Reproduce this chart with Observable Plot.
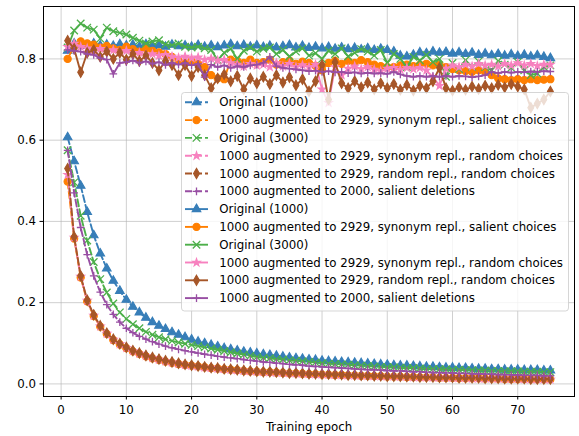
<!DOCTYPE html>
<html><head><meta charset="utf-8">
<script src="https://cdn.jsdelivr.net/npm/d3@7"></script>
<script src="https://cdn.jsdelivr.net/npm/@observablehq/plot@0.6"></script>
<style>body{margin:0;background:#fff} #chart{width:579px;height:436px}</style>
</head><body><div id="chart"></div>
<script>
const epochs = d3.range(1, 76);
const xTicks = [0, 10, 20, 30, 40, 50, 60, 70];
const yTicks = [0.0, 0.2, 0.4, 0.6, 0.8];
const xLabel = "Training epoch";

const labels = [
  "Original (1000)",
  "1000 augmented to 2929, synonym repl., salient choices",
  "Original (3000)",
  "1000 augmented to 2929, synonym repl., random choices",
  "1000 augmented to 2929, random repl., random choices",
  "1000 augmented to 2000, salient deletions"
];

// dashed curves (decreasing)
const lossOrig1000 = [0.607,0.548,0.488,0.423,0.366,0.321,0.284,0.254,0.229,0.207,0.190,0.176,0.163,0.152,0.143,0.135,0.127,0.121,0.115,0.109,0.104,0.100,0.096,0.092,0.088,0.085,0.082,0.079,0.077,0.075,0.073,0.071,0.069,0.067,0.065,0.063,0.062,0.060,0.059,0.057,0.056,0.055,0.054,0.053,0.052,0.051,0.050,0.049,0.048,0.047,0.046,0.045,0.045,0.044,0.043,0.042,0.042,0.041,0.040,0.040,0.039,0.039,0.038,0.037,0.037,0.036,0.036,0.035,0.035,0.035,0.034,0.034,0.034,0.033,0.033];
const lossSynSal = [0.498,0.358,0.262,0.203,0.167,0.141,0.123,0.108,0.097,0.088,0.080,0.074,0.068,0.063,0.059,0.055,0.052,0.049,0.047,0.045,0.043,0.041,0.039,0.038,0.036,0.035,0.034,0.032,0.031,0.030,0.029,0.029,0.028,0.027,0.026,0.026,0.025,0.024,0.024,0.023,0.023,0.022,0.022,0.021,0.021,0.020,0.020,0.019,0.019,0.018,0.018,0.018,0.017,0.017,0.016,0.016,0.016,0.015,0.015,0.015,0.014,0.014,0.014,0.014,0.013,0.013,0.013,0.012,0.012,0.012,0.012,0.011,0.011,0.011,0.011];
const lossOrig3000 = [0.575,0.496,0.414,0.353,0.300,0.258,0.225,0.198,0.176,0.160,0.147,0.137,0.128,0.121,0.115,0.110,0.106,0.102,0.099,0.096,0.093,0.090,0.087,0.084,0.081,0.078,0.075,0.072,0.069,0.066,0.064,0.063,0.061,0.060,0.058,0.057,0.056,0.054,0.053,0.051,0.050,0.049,0.048,0.047,0.046,0.045,0.044,0.043,0.042,0.041,0.041,0.040,0.039,0.039,0.038,0.037,0.037,0.036,0.036,0.035,0.035,0.034,0.034,0.033,0.033,0.032,0.032,0.031,0.031,0.031,0.030,0.030,0.030,0.029,0.029];
const lossSynRand = [0.515,0.360,0.264,0.205,0.168,0.142,0.124,0.109,0.098,0.089,0.081,0.075,0.069,0.064,0.060,0.056,0.053,0.050,0.047,0.045,0.043,0.041,0.040,0.038,0.037,0.035,0.034,0.033,0.032,0.031,0.030,0.029,0.028,0.028,0.027,0.026,0.026,0.025,0.024,0.024,0.023,0.023,0.022,0.022,0.021,0.021,0.020,0.020,0.019,0.019,0.019,0.018,0.018,0.017,0.017,0.017,0.016,0.016,0.016,0.015,0.015,0.015,0.014,0.014,0.014,0.014,0.013,0.013,0.013,0.013,0.012,0.012,0.012,0.012,0.011];
const lossRandRand = [0.530,0.362,0.266,0.206,0.170,0.143,0.125,0.110,0.099,0.090,0.082,0.076,0.070,0.065,0.061,0.057,0.054,0.051,0.048,0.046,0.044,0.042,0.040,0.039,0.037,0.036,0.035,0.033,0.032,0.031,0.030,0.030,0.029,0.028,0.027,0.027,0.026,0.025,0.025,0.024,0.024,0.023,0.023,0.022,0.022,0.021,0.021,0.020,0.020,0.019,0.019,0.019,0.018,0.018,0.017,0.017,0.017,0.016,0.016,0.016,0.015,0.015,0.015,0.015,0.014,0.014,0.014,0.013,0.013,0.013,0.013,0.012,0.012,0.012,0.012];
const lossSalDel = [0.575,0.470,0.385,0.318,0.266,0.226,0.195,0.171,0.152,0.137,0.126,0.117,0.110,0.104,0.098,0.093,0.089,0.085,0.082,0.079,0.076,0.073,0.071,0.068,0.066,0.064,0.062,0.060,0.058,0.056,0.054,0.053,0.051,0.050,0.048,0.047,0.046,0.044,0.043,0.042,0.041,0.040,0.039,0.038,0.037,0.036,0.035,0.035,0.034,0.033,0.032,0.032,0.031,0.030,0.030,0.029,0.028,0.028,0.027,0.027,0.026,0.026,0.025,0.025,0.024,0.024,0.023,0.023,0.022,0.022,0.021,0.021,0.021,0.020,0.020];

// solid curves (around 0.8)
const accOrig1000 = [0.820,0.838,0.835,0.832,0.838,0.833,0.835,0.832,0.836,0.833,0.835,0.830,0.836,0.832,0.834,0.830,0.835,0.831,0.833,0.830,0.834,0.830,0.833,0.829,0.833,0.836,0.831,0.834,0.830,0.833,0.829,0.832,0.828,0.831,0.834,0.828,0.832,0.827,0.830,0.826,0.829,0.825,0.828,0.824,0.827,0.823,0.826,0.822,0.825,0.822,0.818,0.808,0.806,0.810,0.816,0.814,0.818,0.815,0.817,0.813,0.816,0.812,0.815,0.810,0.813,0.809,0.812,0.808,0.811,0.807,0.810,0.806,0.809,0.805,0.802];
const accSynSal = [0.800,0.832,0.843,0.838,0.835,0.828,0.832,0.826,0.822,0.830,0.824,0.818,0.826,0.820,0.816,0.812,0.805,0.795,0.790,0.795,0.788,0.780,0.760,0.752,0.750,0.798,0.795,0.790,0.798,0.790,0.792,0.798,0.786,0.792,0.796,0.788,0.793,0.790,0.783,0.772,0.790,0.795,0.788,0.795,0.790,0.797,0.792,0.786,0.782,0.780,0.780,0.784,0.786,0.782,0.786,0.788,0.784,0.786,0.780,0.775,0.772,0.770,0.768,0.772,0.768,0.760,0.752,0.750,0.748,0.750,0.748,0.750,0.748,0.749,0.750];
const accOrig3000 = [0.828,0.870,0.887,0.877,0.872,0.850,0.877,0.868,0.864,0.860,0.852,0.845,0.838,0.843,0.846,0.836,0.834,0.838,0.830,0.828,0.830,0.826,0.822,0.797,0.815,0.825,0.800,0.820,0.828,0.818,0.825,0.828,0.812,0.822,0.806,0.818,0.826,0.808,0.814,0.800,0.820,0.812,0.826,0.806,0.815,0.824,0.818,0.808,0.822,0.790,0.812,0.800,0.780,0.805,0.796,0.810,0.792,0.800,0.756,0.790,0.775,0.797,0.780,0.794,0.780,0.772,0.795,0.786,0.778,0.792,0.772,0.760,0.764,0.780,0.784];
const accSynRand = [0.830,0.838,0.830,0.826,0.822,0.825,0.820,0.822,0.816,0.820,0.814,0.815,0.810,0.812,0.808,0.810,0.806,0.803,0.806,0.802,0.804,0.798,0.801,0.796,0.798,0.790,0.786,0.782,0.788,0.784,0.786,0.780,0.790,0.782,0.788,0.780,0.785,0.780,0.786,0.725,0.692,0.780,0.760,0.776,0.782,0.775,0.780,0.774,0.770,0.776,0.778,0.774,0.778,0.775,0.778,0.772,0.755,0.734,0.776,0.784,0.780,0.786,0.782,0.788,0.784,0.786,0.782,0.788,0.784,0.790,0.784,0.788,0.783,0.786,0.786];
const accRandRand = [0.845,0.825,0.767,0.815,0.822,0.805,0.818,0.800,0.815,0.798,0.812,0.795,0.808,0.790,0.772,0.795,0.785,0.760,0.785,0.758,0.780,0.760,0.728,0.752,0.762,0.745,0.758,0.725,0.752,0.740,0.756,0.738,0.760,0.742,0.755,0.735,0.750,0.720,0.745,0.785,0.700,0.792,0.740,0.728,0.745,0.730,0.742,0.725,0.740,0.728,0.738,0.724,0.736,0.722,0.734,0.728,0.745,0.778,0.728,0.722,0.730,0.724,0.732,0.726,0.734,0.728,0.736,0.730,0.738,0.732,0.725,0.680,0.690,0.700,0.720];
const accSalDel = [0.822,0.820,0.818,0.812,0.810,0.802,0.798,0.763,0.790,0.792,0.796,0.790,0.794,0.788,0.792,0.785,0.790,0.786,0.790,0.784,0.788,0.755,0.786,0.780,0.784,0.778,0.782,0.780,0.784,0.786,0.790,0.805,0.782,0.778,0.776,0.774,0.772,0.770,0.771,0.768,0.770,0.767,0.768,0.765,0.767,0.764,0.766,0.764,0.765,0.763,0.768,0.762,0.758,0.756,0.758,0.756,0.758,0.756,0.758,0.756,0.758,0.757,0.755,0.757,0.760,0.768,0.765,0.768,0.766,0.768,0.767,0.769,0.768,0.770,0.769];

const colors = ["#377eb8", "#ff7f00", "#4daf4a", "#f781bf", "#a65628", "#984ea3"];
const symbols = ["triangle", "circle", "times", "star", "diamond", "plus"];
const dashedSeries = [lossOrig1000, lossSynSal, lossOrig3000, lossSynRand, lossRandRand, lossSalDel];
const solidSeries = [accOrig1000, accSynSal, accOrig3000, accSynRand, accRandRand, accSalDel];

// marker styling
const symR = {triangle: 3.2, circle: 3.6, times: 3.5, star: 2.4, diamond: 3.1, plus: 2.6};
const strokeOnly = {times: true, plus: true};

const seriesList = [];
dashedSeries.forEach((vals, i) => seriesList.push({vals, i, dashed: true}));
solidSeries.forEach((vals, i) => seriesList.push({vals, i, dashed: false}));

const marks = [
  Plot.gridX(xTicks, {stroke: "#b0b0b0", strokeOpacity: 0.6, strokeWidth: 1}),
  Plot.gridY(yTicks, {stroke: "#b0b0b0", strokeOpacity: 0.6, strokeWidth: 1})
];
for (const s of seriesList) {
  const rows = s.vals.map((v, k) => ({epoch: epochs[k], value: v}));
  const c = colors[s.i], sym = symbols[s.i];
  marks.push(Plot.line(rows, {x: "epoch", y: "value", stroke: c, strokeWidth: 1.9,
    strokeDasharray: s.dashed ? "7,3" : null}));
  marks.push(Plot.dot(rows, {x: "epoch", y: "value", symbol: () => sym, r: symR[sym],
    fill: strokeOnly[sym] ? "none" : c, stroke: c, strokeWidth: strokeOnly[sym] ? 1.3 : 1.1}));
}
marks.push(Plot.frame({stroke: "black", strokeWidth: 1}));
marks.push(Plot.axisX(xTicks, {tickSize: 3.5, tickPadding: 6, label: null}));
marks.push(Plot.axisY(yTicks, {tickSize: 3.5, tickPadding: 4, tickFormat: d3.format(".1f"), label: null}));
marks.push(Plot.text([xLabel], {frameAnchor: "bottom", dy: 31, text: d => d, lineAnchor: "middle"}));

const svg = Plot.plot({
  width: 579, height: 436,
  marginLeft: 43, marginRight: 5, marginTop: 6, marginBottom: 40,
  x: {domain: [-2.7, 78.7]},
  y: {domain: [-0.031, 0.929]},
  symbol: {type: "identity"},
  style: {fontFamily: "'DejaVu Sans', sans-serif", fontSize: "11.8px", background: "white", color: "black"},
  marks
});

// legend (drawn on top, semi-transparent box)
const lg = d3.select(svg).append("g").attr("class", "legend").attr("text-anchor", "start");
lg.append("rect").attr("x", 181.5).attr("y", 92.5).attr("width", 387).attr("height", 218.5)
  .attr("rx", 3).attr("fill", "white").attr("fill-opacity", 0.8)
  .attr("stroke", "#cccccc").attr("stroke-opacity", 0.8).attr("stroke-width", 1);
const symMap = {triangle: d3.symbolTriangle, circle: d3.symbolCircle, times: d3.symbolTimes,
  star: d3.symbolStar, diamond: d3.symbolDiamond, plus: d3.symbolPlus};
seriesList.forEach((s, k) => {
  const y = 102.3 + k * 17.8;
  const c = colors[s.i], sym = symbols[s.i];
  lg.append("line").attr("x1", 185).attr("x2", 208).attr("y1", y).attr("y2", y)
    .attr("stroke", c).attr("stroke-width", 1.9)
    .attr("stroke-dasharray", s.dashed ? "7,3" : null);
  const r = symR[sym];
  lg.append("path").attr("d", d3.symbol(symMap[sym], r * r * Math.PI)())
    .attr("transform", `translate(196.5,${y})`)
    .attr("fill", strokeOnly[sym] ? "none" : c).attr("stroke", c)
    .attr("stroke-width", strokeOnly[sym] ? 1.3 : 1.1);
  lg.append("text").attr("x", 219.3).attr("y", y).attr("dy", "0.35em")
    .attr("text-anchor", "start").attr("fill", "black").text(labels[s.i]);
});

document.getElementById("chart").appendChild(svg);
</script>
</body></html>
